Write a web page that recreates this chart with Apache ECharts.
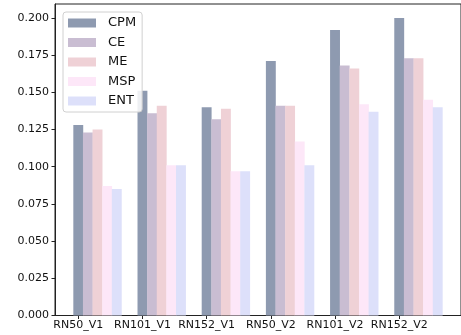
<!DOCTYPE html>
<html>
<head>
<meta charset="utf-8">
<script src="https://cdn.jsdelivr.net/npm/echarts@6/dist/echarts.min.js"></script>
<style>html,body{margin:0;padding:0;background:#fff;}#c{width:461px;height:335px;}</style>
</head>
<body>
<div id="c"></div>
<script>
var categories = ['RN50_V1', 'RN101_V1', 'RN152_V1', 'RN50_V2', 'RN101_V2', 'RN152_V2'];
var seriesNames = ['CPM', 'CE', 'ME', 'MSP', 'ENT'];
var CPM = [0.128, 0.151, 0.140, 0.171, 0.192, 0.200];
var CE  = [0.123, 0.136, 0.132, 0.141, 0.168, 0.173];
var ME  = [0.125, 0.141, 0.139, 0.141, 0.166, 0.173];
var MSP = [0.087, 0.101, 0.097, 0.117, 0.142, 0.145];
var ENT = [0.085, 0.101, 0.097, 0.101, 0.137, 0.140];
var yTicks = [0, 0.025, 0.05, 0.075, 0.1, 0.125, 0.15, 0.175, 0.2];

var colors = ['#8e9ab0', '#c9bdd2', '#efd1d6', '#fde7f8', '#dde0fa'];
var allValues = [CPM, CE, ME, MSP, ENT];
var barStep = 0.15;
var n = categories.length;
var xMin = -barStep / 2 - 0.05 * (n - 1 + barStep * 5);
var xMax = (n - 1) + barStep * 4 + barStep / 2 + 0.05 * (n - 1 + barStep * 5);
var yMax = 0.2094;

var chart = echarts.init(document.getElementById('c'), null, {renderer: 'canvas'});
var idx = categories.map(function (c, i) { return i; });
var series = seriesNames.map(function (name, k) {
  return {
    name: name,
    type: 'bar',
    barWidth: 9.9,
    barGap: '-100%',
    itemStyle: {color: colors[k]},
    data: allValues[k].map(function (v, i) { return [i + k * barStep, v]; })
  };
});
var font = 'DejaVu Sans';
chart.setOption({
  animation: false,
  grid: {left: 55, top: 4, width: 416, height: 311.5, show: true, borderColor: '#222', borderWidth: 1, backgroundColor: 'transparent'},
  legend: {
    orient: 'vertical', left: 63, top: 12,
    data: seriesNames,
    itemWidth: 28, itemHeight: 9, itemGap: 5.5,
    padding: [4, 6, 4, 5],
    borderColor: '#d0d0d0', borderWidth: 1, borderRadius: 3,
    backgroundColor: 'rgba(255,255,255,0.85)',
    icon: 'rect',
    textStyle: {fontFamily: font, fontSize: 13, color: '#111', lineHeight: 14, padding: [0, 0, 0, 7]}
  },
  xAxis: {
    type: 'value', min: xMin, max: xMax,
    splitLine: {show: false},
    axisLine: {show: true, onZero: false, lineStyle: {color: '#222', width: 1}},
    axisTick: {show: true, length: 3.5, customValues: idx, lineStyle: {color: '#222'}},
    axisLabel: {
      customValues: idx, margin: 4,
      fontFamily: font, fontSize: 11, color: '#111',
      formatter: function (v) { return categories[Math.round(v)]; }
    }
  },
  yAxis: {
    type: 'value', min: 0, max: yMax,
    splitLine: {show: false},
    axisLine: {show: true, onZero: false, lineStyle: {color: '#222', width: 1}},
    axisTick: {show: true, length: 3.5, customValues: yTicks, lineStyle: {color: '#222'}},
    axisLabel: {
      customValues: yTicks, margin: 6,
      fontFamily: font, fontSize: 11, color: '#111',
      formatter: function (v) { return v.toFixed(3); }
    }
  },
  series: series
});
</script>
</body>
</html>
